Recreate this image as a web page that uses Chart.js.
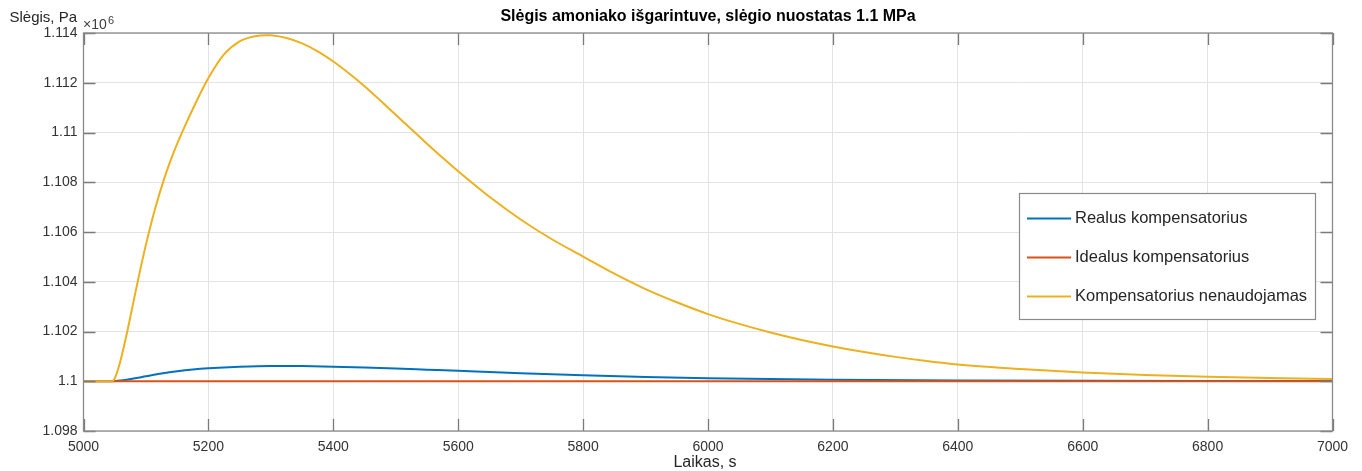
<!DOCTYPE html>
<html>
<head>
<meta charset="utf-8">
<script src="https://cdn.jsdelivr.net/npm/chart.js@4/dist/chart.umd.min.js"></script>
<style>
  html, body { margin: 0; padding: 0; background: #fff; }
  #wrap { width: 1362px; height: 471px; }
</style>
</head>
<body>
<div id="wrap"><canvas id="c" width="1362" height="471"></canvas></div>
<script>
// Time axis, s
const xTicks = [5000, 5200, 5400, 5600, 5800, 6000, 6200, 6400, 6600, 6800, 7000];
// Pressure axis, Pa
const yTicks = [1098000, 1100000, 1102000, 1104000, 1106000, 1108000, 1110000, 1112000, 1114000];

const seriesNames = ['Realus kompensatorius', 'Idealus kompensatorius', 'Kompensatorius nenaudojamas'];

// Real compensator
const timeReal = [5000, 5046, 5060, 5080, 5100, 5125, 5150, 5175, 5200, 5250, 5300, 5350, 5400, 5450, 5500, 5550, 5600, 5650, 5700, 5800, 5900, 6000, 6100, 6200, 6400, 6600, 6800, 7000];
const pressureReal = [1100000, 1100000, 1100030, 1100110, 1100200, 1100310, 1100400, 1100470, 1100520, 1100585, 1100615, 1100610, 1100585, 1100550, 1100510, 1100465, 1100420, 1100370, 1100322, 1100240, 1100175, 1100125, 1100090, 1100065, 1100035, 1100020, 1100012, 1100007];

// Ideal compensator
const timeIdeal = [5000, 5500, 6000, 6500, 7000];
const pressureIdeal = [1100000, 1100000, 1100000, 1100000, 1100000];

// No compensator
const timeNone = [5000, 5046, 5050, 5055, 5060, 5070, 5080, 5090, 5100, 5115, 5130, 5145, 5160, 5180, 5200, 5225, 5250, 5275, 5292, 5300, 5325, 5350, 5375, 5400, 5425, 5450, 5475, 5500, 5525, 5550, 5575, 5600, 5650, 5700, 5750, 5800, 5850, 5900, 5950, 6000, 6050, 6100, 6150, 6200, 6250, 6300, 6350, 6400, 6500, 6600, 6700, 6800, 6900, 7000];
const pressureNone = [1100000, 1100000, 1100112, 1100452, 1100902, 1101992, 1103192, 1104382, 1105492, 1106962, 1108207, 1109242, 1110127, 1111207, 1112187, 1113137, 1113662, 1113872, 1113913, 1113905, 1113800, 1113585, 1113265, 1112855, 1112380, 1111858, 1111293, 1110713, 1110130, 1109552, 1108987, 1108439, 1107414, 1106504, 1105709, 1105014, 1104324, 1103704, 1103174, 1102700, 1102305, 1101960, 1101660, 1101400, 1101175, 1100980, 1100815, 1100675, 1100490, 1100350, 1100250, 1100180, 1100130, 1100092];

const colors = ['#0072BD', '#D95319', '#EDB120'];
const FONT = '"Liberation Sans", Arial, Helvetica, sans-serif';

const toPoints = (t, p) => t.map((x, i) => ({ x: x, y: p[i] }));

// Box, inward tick marks, labels and legend in the classic engineering-plot style
const framePlugin = {
  id: 'frame',
  afterDatasetsDraw(chart) {
    const { ctx, chartArea: a, scales } = chart;
    const tickLen = 12;
    ctx.save();
    ctx.strokeStyle = '#7a7a7a';
    ctx.lineWidth = 1.3;
    ctx.beginPath();
    scales.x.ticks.forEach(t => {
      const px = Math.round(scales.x.getPixelForValue(t.value)) + 0.5;
      ctx.moveTo(px, a.bottom); ctx.lineTo(px, a.bottom - tickLen);
      ctx.moveTo(px, a.top); ctx.lineTo(px, a.top + tickLen);
    });
    scales.y.ticks.forEach(t => {
      const py = Math.round(scales.y.getPixelForValue(t.value)) + 0.5;
      ctx.moveTo(a.left, py); ctx.lineTo(a.left + tickLen, py);
      ctx.moveTo(a.right, py); ctx.lineTo(a.right - tickLen, py);
    });
    ctx.stroke();
    ctx.strokeStyle = '#8a8a8a';
    ctx.strokeRect(a.left, a.top, a.right - a.left, a.bottom - a.top);
    ctx.restore();
  },
  afterDraw(chart) {
    const { ctx, chartArea: a } = chart;
    ctx.save();
    // Title
    ctx.fillStyle = '#000';
    ctx.font = 'bold 16px ' + FONT;
    ctx.textAlign = 'center';
    ctx.textBaseline = 'middle';
    ctx.fillText('Slėgis amoniako išgarintuve, slėgio nuostatas 1.1 MPa', (a.left + a.right) / 2, 17);
    // X axis label
    ctx.fillStyle = '#262626';
    ctx.font = '16px ' + FONT;
    ctx.fillText('Laikas, s', (a.left + a.right) / 2 - 3, 463);
    // Y axis label
    ctx.textAlign = 'right';
    ctx.textBaseline = 'alphabetic';
    ctx.font = '15px ' + FONT;
    ctx.fillText('Slėgis, Pa', 77, 22);
    // Exponent
    ctx.textAlign = 'left';
    ctx.fillStyle = '#404040';
    ctx.font = '14px ' + FONT;
    ctx.fillText('×10', 83, 29);
    ctx.font = '11px ' + FONT;
    ctx.fillText('6', 108, 24);

    // Legend
    const lx = 1019.5, ly = 193.5, lw = 296, lh = 126;
    ctx.fillStyle = '#fff';
    ctx.fillRect(lx, ly, lw, lh);
    ctx.strokeStyle = '#8a8a8a';
    ctx.lineWidth = 1.2;
    ctx.strokeRect(lx, ly, lw, lh);
    ctx.font = '16.5px ' + FONT;
    ctx.textBaseline = 'middle';
    chart.data.datasets.forEach((ds, i) => {
      const yy = 218.5 + i * 39;
      ctx.strokeStyle = ds.borderColor;
      ctx.lineWidth = 2;
      ctx.beginPath();
      ctx.moveTo(1027, yy); ctx.lineTo(1071, yy);
      ctx.stroke();
      ctx.fillStyle = '#262626';
      ctx.fillText(ds.label, 1075, yy);
    });
    ctx.restore();
  }
};

const fmtY = v => String(parseFloat((v / 1e6).toFixed(3)));

new Chart(document.getElementById('c'), {
  type: 'line',
  data: {
    datasets: [
      { label: seriesNames[0], data: toPoints(timeReal, pressureReal), borderColor: colors[0], order: 2 },
      { label: seriesNames[1], data: toPoints(timeIdeal, pressureIdeal), borderColor: colors[1], order: 1 },
      { label: seriesNames[2], data: toPoints(timeNone, pressureNone), borderColor: colors[2], order: 0 }
    ].map(d => Object.assign(d, {
      borderWidth: 2,
      pointRadius: 0,
      fill: false,
      cubicInterpolationMode: 'monotone'
    }))
  },
  options: {
    responsive: false,
    animation: false,
    devicePixelRatio: 1,
    layout: { padding: { top: 33, right: 29.5, bottom: 0, left: 0 } },
    plugins: {
      legend: { display: false },
      title: { display: false },
      tooltip: { enabled: false }
    },
    scales: {
      x: {
        type: 'linear',
        min: xTicks[0],
        max: xTicks[xTicks.length - 1],
        afterBuildTicks: s => { s.ticks = xTicks.map(v => ({ value: v })); },
        afterFit: s => { s.height = 40; },
        grid: { color: '#e3e3e3', lineWidth: 1, drawTicks: false },
        border: { display: false },
        ticks: {
          padding: 8,
          color: '#333',
          font: { family: FONT, size: 14 },
          maxRotation: 0,
          callback: v => String(v)
        }
      },
      y: {
        type: 'linear',
        min: yTicks[0],
        max: yTicks[yTicks.length - 1],
        afterBuildTicks: s => { s.ticks = yTicks.map(v => ({ value: v })); },
        afterFit: s => { s.width = 83.5; },
        grid: { color: '#e3e3e3', lineWidth: 1, drawTicks: false },
        border: { display: false },
        ticks: {
          padding: 6,
          color: '#333',
          font: { family: FONT, size: 14 },
          callback: v => fmtY(v)
        }
      }
    }
  },
  plugins: [framePlugin]
});
</script>
</body>
</html>
